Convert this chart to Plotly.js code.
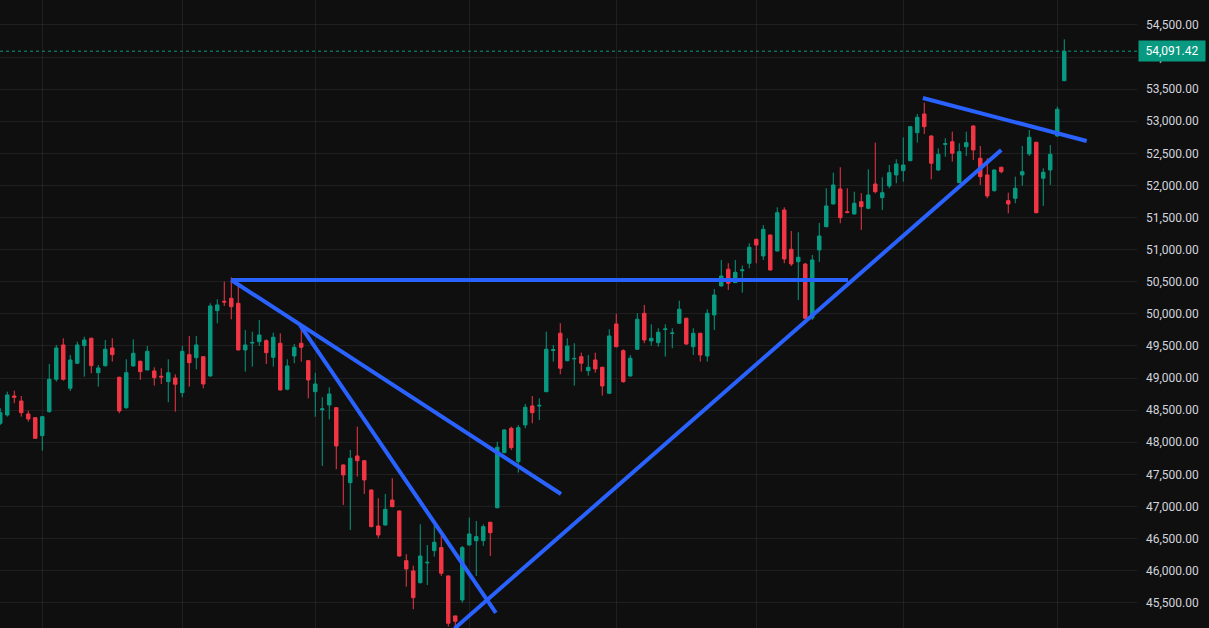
<!DOCTYPE html>
<html><head><meta charset="utf-8">
<script src="https://cdn.plot.ly/plotly-3.0.1.min.js"></script>
<style>html,body{margin:0;padding:0;background:#0f0f0f;}#chart{width:1209px;height:628px;}</style>
</head><body><div id="chart"></div>
<script>
const opens = [48296,48425,48721,48643,48441,48383,48103,48477,48981,49516,
48841,49231,49505,49620,49084,49193,49469,49013,48539,49189,
49262,49126,49111,49028,48944,49002,48773,49365,49318,49333,
49033,50050,50196,50243,50165,49438,49545,49567,49583,49324,
49542,48826,49344,49542,49271,48788,48505,48581,48539,47647,
47371,47787,47713,47257,46696,46712,47101,46930,46156,45996,
45813,46120,46312,46359,45918,45295,45544,46400,46467,46467,
46754,46981,47838,48218,47698,48270,48566,48565,48788,49430,
49698,49271,49298,49333,49115,49282,49168,48763,49843,49427,
49033,49449,50009,49578,49552,49755,49694,49854,49932,49489,
49698,49344,49983,50435,50695,50486,50672,50788,51162,50902,
51229,50980,51618,51006,50813,50777,49936,50995,51358,51712,
51946,51590,51556,51748,51645,52023,51810,51992,52164,52231,
52386,52822,53114,52771,52241,52640,52682,52044,52604,52927,
52424,52164,51919,52284,51763,51801,52164,52491,52673,52112,
52241,52771,53632];
const highs = [48530,48788,48804,48721,48492,48390,48410,49220,49516,49620,
49360,49567,49645,49630,49204,49594,49620,49020,49293,49604,
49270,49500,49168,49153,49293,49059,49500,49656,49656,49340,
50165,50227,50502,50570,50450,49749,49723,49905,49604,49707,
49698,49293,49531,49827,49280,49084,48701,48857,48545,47655,
47880,48243,47720,47265,47128,47195,47439,46940,46256,46078,
46723,46400,46712,46556,45925,45300,46385,46826,46774,46720,
46760,48009,48203,48243,48270,48597,48721,48685,49723,49516,
49854,49620,49542,49396,49360,49396,49175,49760,49999,49449,
49360,50009,50139,49838,49776,49838,49776,50206,49940,49776,
49705,50072,50388,50840,50788,50840,50751,51100,51170,51385,
51235,51660,51660,51291,51271,50790,50918,51416,51956,52199,
52284,51956,51903,51879,52252,52667,52128,52319,52408,52751,
52927,53114,53290,52780,52579,52735,52838,52657,52838,52935,
52615,52424,52250,52290,51888,52137,52615,52865,52680,52268,
52631,53227,54277];
const lows = [48270,48399,48608,48399,48321,48052,47869,48461,48944,48960,
48799,49215,49022,49075,48866,49178,49256,48452,48520,49180,
48971,49120,48882,48908,48623,48477,48701,48866,49137,48841,
49022,49854,50123,49916,49430,49100,49178,49500,49220,49178,
48805,48810,49231,49256,48685,48399,47631,48358,47580,47024,
46634,47464,47195,46676,46505,46700,46987,46219,45751,45399,
45803,45777,46219,45918,45130,45080,45502,46390,45918,46385,
46229,46970,47828,47880,47527,48218,48296,48347,48780,49256,
49059,49260,48882,49100,49037,49084,48726,48752,49480,48928,
49022,49438,49542,49505,49489,49333,49464,49843,49516,49360,
49256,49256,49749,50425,50372,50480,50330,50710,50788,50840,
50675,50972,50788,50746,50217,49916,49905,50808,51350,51705,
51411,51567,51548,51307,51630,51879,51618,51956,52034,52059,
52380,52667,52802,52097,52230,52449,52371,52035,52460,52397,
52008,51801,51903,52190,51567,51723,51997,52460,51567,51681,
52008,52760,53625];
const closes = [48461,48737,48701,48461,48363,48062,48399,48981,49469,48981,
49282,49516,49594,49193,49157,49449,49365,48488,49084,49386,
49100,49417,49006,49017,49084,48904,49417,49240,49516,48908,
50123,50139,50185,50112,49438,49516,49555,49671,49396,49636,
48815,49189,49480,49480,48971,48908,48520,48752,47943,47491,
47751,47713,47413,46686,46556,46956,46997,46229,46027,45580,
46229,46130,46443,45960,45181,45212,46359,46572,46530,46686,
46592,47922,48192,47916,48228,48545,48461,48575,49449,49442,
49153,49500,49306,49231,49168,49142,48877,49656,49489,48944,
49309,49916,49594,49620,49713,49765,49702,50072,49531,49698,
49360,50009,50294,50590,50477,50648,50685,51037,51073,51318,
50684,51576,50855,50777,50882,49932,50840,51213,51681,52008,
51498,51580,51723,51670,51852,51903,51888,52199,52335,52319,
52916,53062,52916,52346,52486,52652,52502,52527,52667,52553,
52137,51837,52241,52215,51712,51956,52215,52751,51576,52206,
52486,53187,54091.42];
// candle indices where the vertical (date) grid lines fall
const gridIdx = [6,26,45,67,88,108,129,151];
// hand-drawn trend lines: [index, price] endpoints
const trendLineX = [[33,121.1],[33,80.1],[42.8,70.8],[64.9,143],[131.8,155.2]];
const trendLineY = [[50528,50528],[50528,47195],[49827,45341],[45100,52553],[53363,52693]];

const UP='#089981', DOWN='#f23645', BG='#0f0f0f', GRID='rgba(255,255,255,0.065)', BLUE='#2962ff';
const xs = opens.map((_,i)=>i);
const traces = [{
  type:'candlestick', x:xs, open:opens, high:highs, low:lows, close:closes,
  increasing:{line:{color:UP,width:1},fillcolor:UP},
  decreasing:{line:{color:DOWN,width:1},fillcolor:DOWN},
  whiskerwidth:0, hoverinfo:'skip', showlegend:false
}];
trendLineX.forEach((lx,k)=>{
  traces.push({type:'scatter',mode:'lines',x:lx,y:trendLineY[k],
    line:{color:BLUE,width:4},hoverinfo:'skip',showlegend:false});
});
const last = closes[closes.length-1];
const lastTxt = last.toLocaleString('en-US',{minimumFractionDigits:2,maximumFractionDigits:2});
const layout = {
  width:1209, height:628,
  margin:{l:0,r:72,t:0,b:0},
  paper_bgcolor:BG, plot_bgcolor:BG,
  showlegend:false,
  xaxis:{range:[-0.04,162.39], tickvals:gridIdx, showticklabels:false, ticks:'',
    showgrid:true, gridcolor:GRID, gridwidth:1, zeroline:false, showline:false,
    rangeslider:{visible:false}, fixedrange:true},
  yaxis:{side:'right', range:[45107,54889], tick0:0, dtick:500, tickformat:',.2f',
    showgrid:true, gridcolor:GRID, gridwidth:1, zeroline:false, showline:false, ticks:'',
    ticklabelstandoff:8,
    tickfont:{family:'Roboto, sans-serif', size:12, color:'#d1d4dc'}, fixedrange:true},
  shapes:[{type:'line', xref:'paper', x0:0, x1:1, yref:'y', y0:last, y1:last,
    line:{color:UP, width:1, dash:'dot'}}],
  annotations:[{xref:'paper', x:1, xanchor:'left', xshift:1, yref:'y', y:last, yanchor:'middle',
    text:lastTxt, showarrow:false, bgcolor:UP, borderpad:3, width:60,
    font:{family:'Roboto, sans-serif', size:12, color:'#ffffff'}}]
};
Plotly.newPlot('chart', traces, layout, {displayModeBar:false, staticPlot:true});
</script></body></html>
